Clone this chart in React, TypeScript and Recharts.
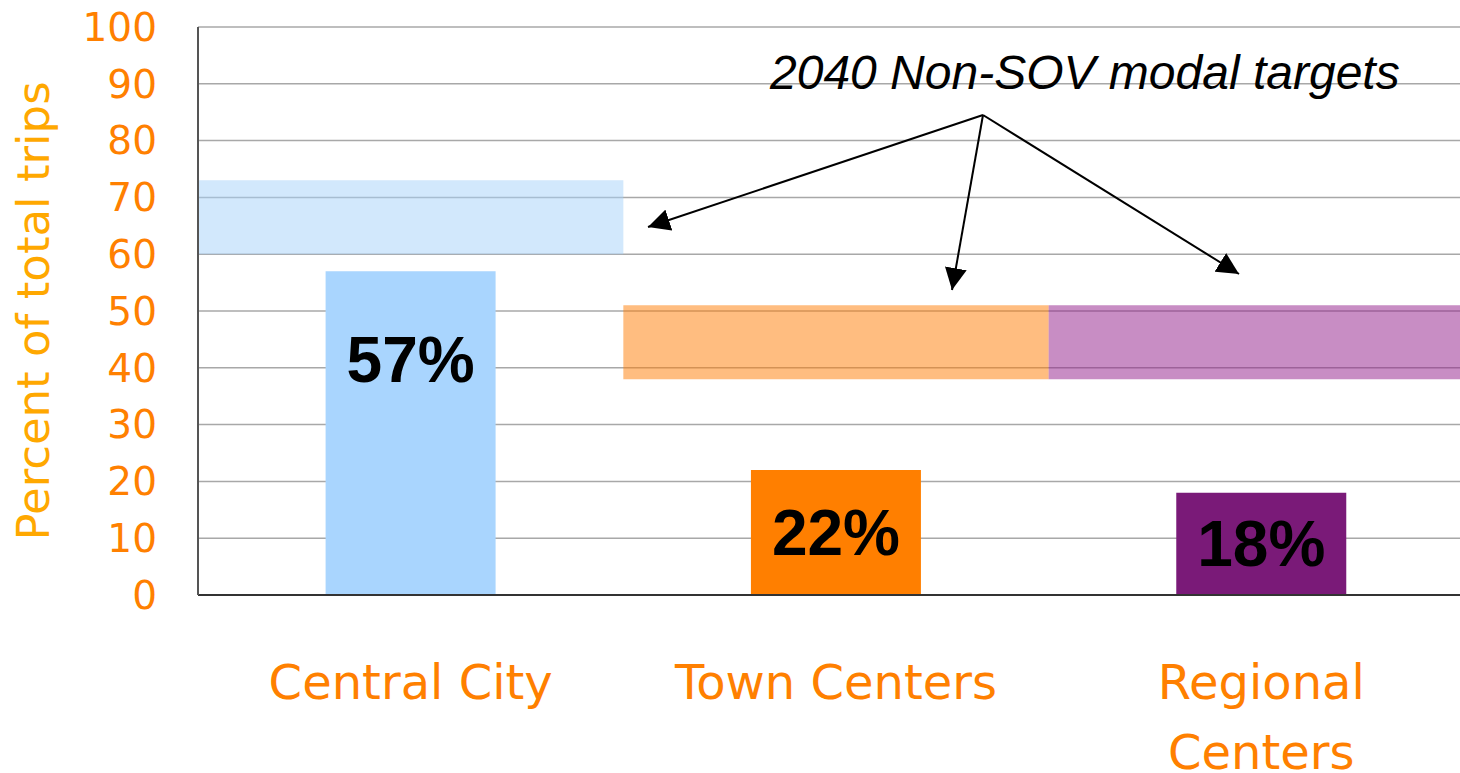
import { BarChart, Bar, XAxis, YAxis, CartesianGrid, ReferenceArea, LabelList, Cell } from 'recharts';

const categories = ['Central City', 'Town Centers', 'Regional Centers'];
const shares = [57, 22, 18];
const targetLow = [60, 38, 38];
const targetHigh = [73, 51, 51];
const yTicks = [0, 10, 20, 30, 40, 50, 60, 70, 80, 90, 100];

const barColors = ['#A9D5FE', '#FF7F00', '#7A1A78'];
const bandColors = ['#A5D1F9', '#FF7B01', '#911B89'];

const data = categories.map((name, i) => ({ name, share: shares[i] }));

const ORANGE = '#FF8000';

// long category names go on two lines, like the original slide
function CategoryTick(props: any) {
  const { x, y, payload } = props;
  const label: string = payload.value;
  const lines = label.length > 14 ? label.split(' ') : [label];
  return (
    <text x={x} y={y + 104} textAnchor="middle" fill={ORANGE} fontSize={48} fontFamily="DejaVu Sans">
      {lines.map((l, i) => (
        <tspan key={l} x={x} dy={i === 0 ? 0 : 70}>
          {l}
        </tspan>
      ))}
    </text>
  );
}

function ShareLabel(props: any) {
  const { x, y, width, height, value } = props;
  return (
    <text
      x={x + width / 2}
      y={y + Math.min(height * 0.5 + 22, 111)}
      textAnchor="middle"
      fontSize={64}
      fontWeight="bold"
      fontFamily="Liberation Sans, Arial, sans-serif"
      fill="#000"
    >
      {value}%
    </text>
  );
}

export default function App() {
  return (
    <div style={{ position: 'absolute', left: 0, top: 0, width: 1460, height: 773, overflow: 'hidden', background: '#fff' }}>
      <BarChart
        width={1474}
        height={773}
        data={data}
        margin={{ top: 27, right: 0, left: 0, bottom: 0 }}
        barCategoryGap="30%"
      >
        <CartesianGrid vertical={false} stroke="#A8A8A8" strokeWidth={1.5} />
        <XAxis
          dataKey="name"
          axisLine={{ stroke: '#333', strokeWidth: 2 }}
          tickLine={false}
          tickSize={0}
          tickMargin={0}
          interval={0}
          tick={<CategoryTick />}
          height={178}
        />
        <YAxis
          domain={[0, 100]}
          ticks={yTicks}
          interval={0}
          width={198}
          axisLine={{ stroke: '#555', strokeWidth: 2 }}
          tickLine={false}
          tickMargin={35}
          tick={{ fill: ORANGE, fontSize: 39, fontFamily: 'DejaVu Sans' }}
          label={{
            value: 'Percent of total trips',
            angle: -90,
            position: 'insideLeft',
            offset: 0,
            dx: 33,
            fill: '#FFA800',
            style: { fontSize: 45, fontFamily: 'DejaVu Sans', textAnchor: 'middle' },
          }}
        />
        {categories.map((c, i) => (
          <ReferenceArea
            key={c}
            x1={c}
            x2={c}
            y1={targetLow[i]}
            y2={targetHigh[i]}
            fill={bandColors[i]}
            fillOpacity={0.5}
            stroke="none"
          />
        ))}
        <Bar dataKey="share" isAnimationActive={false}>
          {data.map((d, i) => (
            <Cell key={d.name} fill={barColors[i]} />
          ))}
          <LabelList dataKey="share" content={<ShareLabel />} />
        </Bar>
      </BarChart>
      <svg width={1460} height={773} style={{ position: 'absolute', left: 0, top: 0, pointerEvents: 'none' }}>
        <defs>
          <marker id="head" markerUnits="userSpaceOnUse" markerWidth={24} markerHeight={22} refX={22} refY={11} orient="auto">
            <path d="M0,0 L22,11 L0,22 Z" fill="#000" />
          </marker>
        </defs>
        <text
          x={770}
          y={89}
          fontSize={48}
          fontStyle="italic"
          fontFamily="Liberation Sans, Arial, sans-serif"
          fill="#000"
        >
          2040 Non-SOV modal targets
        </text>
        <g stroke="#000" strokeWidth={2} fill="none">
          <line x1={983} y1={115} x2={648} y2={227} markerEnd="url(#head)" />
          <line x1={983} y1={115} x2={952} y2={290} markerEnd="url(#head)" />
          <line x1={983} y1={115} x2={1239} y2={274} markerEnd="url(#head)" />
        </g>
      </svg>
    </div>
  );
}
